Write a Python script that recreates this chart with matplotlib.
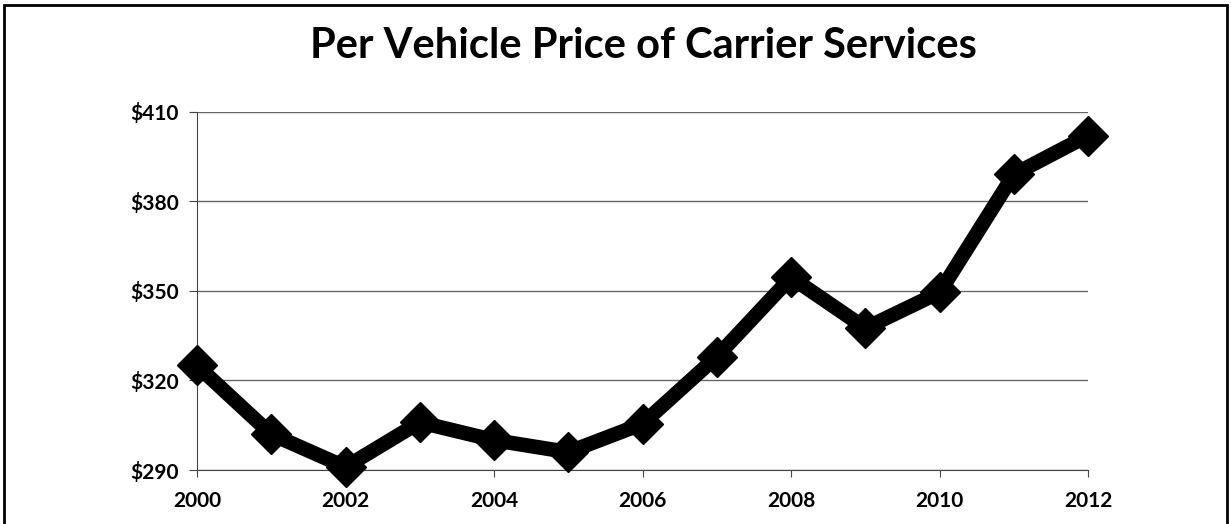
import matplotlib
matplotlib.use("Agg")
import matplotlib.pyplot as plt
from matplotlib.patches import Rectangle

years = [2000, 2001, 2002, 2003, 2004, 2005, 2006, 2007, 2008, 2009, 2010, 2011, 2012]
prices = [325, 302, 291, 306, 300, 296, 305.5, 328, 354.5, 337.5, 349.5, 389, 402]
y_ticks = [290, 320, 350, 380, 410]
x_ticks = [2000, 2002, 2004, 2006, 2008, 2010, 2012]
title = "Per Vehicle Price of Carrier Services"

plt.rcParams['font.family'] = ['Lato', 'DejaVu Sans']

fig = plt.figure(figsize=(12.31, 5.24), dpi=100)
ax = fig.add_axes([0.160, 0.103, 0.724, 0.684])

ax.plot(years, prices, color='black', lw=10.5, marker='D', markersize=20,
        solid_joinstyle='miter', zorder=3, clip_on=False)

ax.set_xlim(2000, 2012)
ax.set_ylim(290, 410)
ax.set_yticks(y_ticks)
ax.set_yticklabels([f"${v}" for v in y_ticks])
ax.set_xticks(x_ticks)
ax.set_xticklabels([str(v) for v in x_ticks])
ax.grid(axis='y', color='#666666', lw=1.0)
for s in ['top', 'right']:
    ax.spines[s].set_visible(False)
ax.spines['left'].set_color('#444444')
ax.spines['bottom'].set_color('#444444')
ax.tick_params(axis='y', direction='out', length=6, color='#444444', pad=7,
               labelsize=15)
ax.tick_params(axis='x', direction='out', length=5, color='#444444', pad=10,
               labelsize=15)
for lab in ax.get_xticklabels() + ax.get_yticklabels():
    lab.set_fontweight('bold')

fig.text(0.523, 0.912, title, ha='center', va='center', fontsize=30,
         fontweight='bold')

fig.patches.append(Rectangle((0.003, -0.01), 0.994, 1.0, transform=fig.transFigure,
                             fill=False, edgecolor='black', lw=2))

fig.savefig("out.png", dpi=100)
